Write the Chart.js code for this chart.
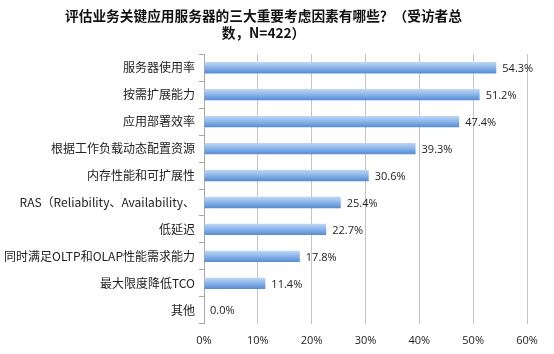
<!DOCTYPE html>
<html>
<head>
<meta charset="utf-8">
<script src="https://cdn.jsdelivr.net/npm/chart.js@4/dist/chart.umd.min.js"></script>
<style>
  html, body { margin: 0; padding: 0; background: #fff; }
  #wrap { width: 554px; height: 354px; position: relative; }
</style>
</head>
<body>
<div id="wrap"><canvas id="c"></canvas></div>
<script>
const titleLines = ['评估业务关键应用服务器的三大重要考虑因素有哪些？（受访者总', '数，N=422）'];
const categories = [
  '服务器使用率',
  '按需扩展能力',
  '应用部署效率',
  '根据工作负载动态配置资源',
  '内存性能和可扩展性',
  'RAS（Reliability、Availability、',
  '低延迟',
  '同时满足OLTP和OLAP性能需求能力',
  '最大限度降低TCO',
  '其他'
];
const values = [54.3, 51.2, 47.4, 39.3, 30.6, 25.4, 22.7, 17.8, 11.4, 0.0];
const xTicks = [0, 10, 20, 30, 40, 50, 60];

const colors = {
  grid: '#c4c4c4',
  axis: '#a6a6a6',
  text: '#222222'
};

// value labels right of each bar
const valueLabels = {
  id: 'valueLabels',
  afterDatasetsDraw(chart) {
    const ctx = chart.ctx;
    const meta = chart.getDatasetMeta(0);
    ctx.save();
    ctx.font = '11px "Open Sans", sans-serif';
    ctx.fillStyle = colors.text;
    ctx.textBaseline = 'middle';
    meta.data.forEach((bar, i) => {
      ctx.fillText(values[i].toFixed(1) + '%', bar.x + 6, bar.y + 1);
    });
    ctx.restore();
  }
};

// vertical gradient centred on each bar
const barFill = (context) => {
  const chart = context.chart;
  const yScale = chart.scales.y;
  if (!yScale || context.dataIndex === undefined) return '#7eaae4';
  const cy = yScale.getPixelForValue(context.dataIndex);
  if (!Number.isFinite(cy)) return '#7eaae4';
  const h = 11;
  const g = chart.ctx.createLinearGradient(0, cy - h / 2, 0, cy + h / 2);
  g.addColorStop(0, '#bcd6f5');
  g.addColorStop(0.45, '#8fb7ea');
  g.addColorStop(1, '#568bd4');
  return g;
};

new Chart(document.getElementById('c'), {
  type: 'bar',
  data: {
    labels: categories,
    datasets: [{
      data: values,
      backgroundColor: barFill,
      borderWidth: 0,
      categoryPercentage: 1,
      barPercentage: 0.42
    }]
  },
  options: {
    indexAxis: 'y',
    responsive: true,
    maintainAspectRatio: false,
    animation: false,
    layout: { padding: { top: 7, right: 27, bottom: -3, left: 0 } },
    plugins: {
      legend: { display: false },
      tooltip: { enabled: false },
      title: {
        display: true,
        text: titleLines,
        color: '#111',
        font: { family: '"Noto Sans CJK SC", sans-serif', size: 13.7, weight: 'bold', lineHeight: 1.25 },
        padding: { top: 0, bottom: 13 }
      }
    },
    scales: {
      x: {
        min: 0,
        max: 60,
        afterBuildTicks: (axis) => { axis.ticks = xTicks.map(v => ({ value: v })); },
        grid: { color: colors.grid, drawTicks: false },
        border: { display: false },
        ticks: {
          color: colors.text,
          font: { family: '"Open Sans", sans-serif', size: 11 },
          padding: 10,
          callback: (v) => v + '%'
        }
      },
      y: {
        afterFit: (s) => { s.width = 204; },
        grid: { drawOnChartArea: false, color: colors.axis, tickLength: 5, offset: true },
        border: { color: colors.axis },
        ticks: {
          color: colors.text,
          font: { family: '"Noto Sans CJK SC", sans-serif', size: 12 },
          padding: 4,
          autoSkip: false
        }
      }
    }
  },
  plugins: [valueLabels]
});
</script>
</body>
</html>
